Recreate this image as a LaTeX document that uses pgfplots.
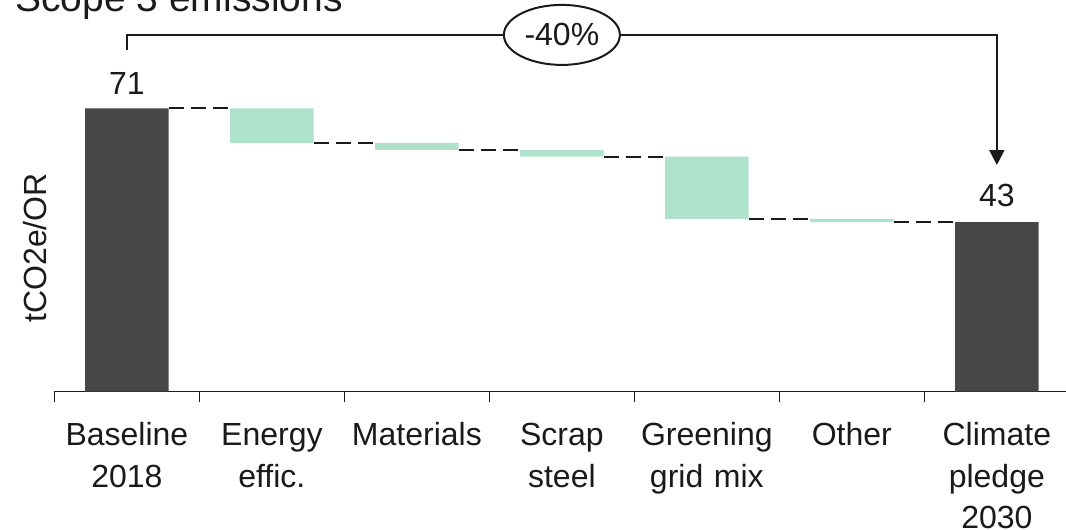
\documentclass[border=0pt]{standalone}
\usepackage{pgfplots}
\pgfplotsset{compat=1.18}
\usepackage{fontspec}
\setmainfont{Liberation Sans}
\usetikzlibrary{arrows.meta,shapes.geometric}
\definecolor{darkbar}{HTML}{474747}
\definecolor{greenbar}{HTML}{AEE2CB}
\definecolor{ink}{HTML}{1A1A1A}
\begin{document}
\begin{tikzpicture}
\useasboundingbox (0,0) rectangle (533pt,-265pt);
\begin{axis}[
  at={(27.2pt,-195.75pt)}, anchor=south west,
  scale only axis, width=505.8pt, height=195.75pt,
  xmin=-0.5, xmax=6.477, ymin=0, ymax=98.7,
  clip=false,
  axis x line*=bottom, axis y line=none,
  x axis line style={line width=0.9pt, color=ink, -},
  ybar stacked, bar width=0.576,
  xtick={0,...,6},
  xticklabels={{Baseline\\2018},{Energy\\effic.},{Materials},{Scrap\\steel},{Greening\\grid mix},{Other},{Climate\\pledge\\2030}},
  major tick length=0pt,
  minor xtick={-0.5,0.5,1.5,2.5,3.5,4.5,5.5},
  minor tick length=5pt,
  tick align=outside,
  every tick/.style={line width=0.7pt, color=ink},
  xticklabel style={font=\fontsize{16}{20.75}\selectfont, text width=70pt, align=center, text=ink, anchor=base, inner sep=0pt, yshift=-27pt},
]
\addplot[fill=none, draw=none] coordinates {(0,0) (1,62.7) (2,60.9) (3,59.2) (4,43.5) (5,42.7) (6,0)};
\addplot[fill=darkbar, draw=none] coordinates {(0,71.4) (1,0) (2,0) (3,0) (4,0) (5,0) (6,42.7)};
\addplot[fill=greenbar, draw=none] coordinates {(0,0) (1,8.7) (2,1.8) (3,1.7) (4,15.7) (5,0.8) (6,0)};

\addplot[stack plots=false, sharp plot, no markers, ink, line width=1pt, dash pattern=on 7.8pt off 3.2pt] coordinates {(0.288,71.4) (0.712,71.4)};
\addplot[stack plots=false, sharp plot, no markers, ink, line width=1pt, dash pattern=on 7.8pt off 3.2pt] coordinates {(1.288,62.7) (1.712,62.7)};
\addplot[stack plots=false, sharp plot, no markers, ink, line width=1pt, dash pattern=on 7.8pt off 3.2pt] coordinates {(2.288,60.9) (2.712,60.9)};
\addplot[stack plots=false, sharp plot, no markers, ink, line width=1pt, dash pattern=on 7.8pt off 3.2pt] coordinates {(3.288,59.2) (3.712,59.2)};
\addplot[stack plots=false, sharp plot, no markers, ink, line width=1pt, dash pattern=on 7.8pt off 3.2pt] coordinates {(4.288,43.5) (4.712,43.5)};
\addplot[stack plots=false, sharp plot, no markers, ink, line width=1pt, dash pattern=on 7.8pt off 3.2pt] coordinates {(5.288,42.7) (5.712,42.7)};

\draw[ink, line width=1pt] (axis cs:0,86.0) |- (axis cs:2.6,89.9);
\draw[ink, line width=1pt, -{Triangle[length=7.5pt,width=7.5pt]}] (axis cs:3.4,89.9) -| (axis cs:6,57.1);
\node[ellipse, draw=ink, line width=1pt, fill=white, minimum width=58pt, minimum height=30pt, inner sep=0pt, font=\fontsize{16}{19}\selectfont, text=ink] at (axis cs:3,89.9) {-40\%};

\node[anchor=base, font=\fontsize{16}{19}\selectfont, text=ink] at (axis cs:0,75.0) {71};
\node[anchor=base, font=\fontsize{16}{19}\selectfont, text=ink] at (axis cs:6,46.6) {43};
\node[anchor=base west, inner sep=0pt, font=\fontsize{19.5}{23}\selectfont, text=ink] at (axis cs:-0.772,95.7) {Scope 3 emissions};
\node[rotate=90, anchor=base, font=\fontsize{16}{19}\selectfont, text=ink] at (axis cs:-0.554,36.2) {tCO2e/OR};
\end{axis}
\end{tikzpicture}
\end{document}
